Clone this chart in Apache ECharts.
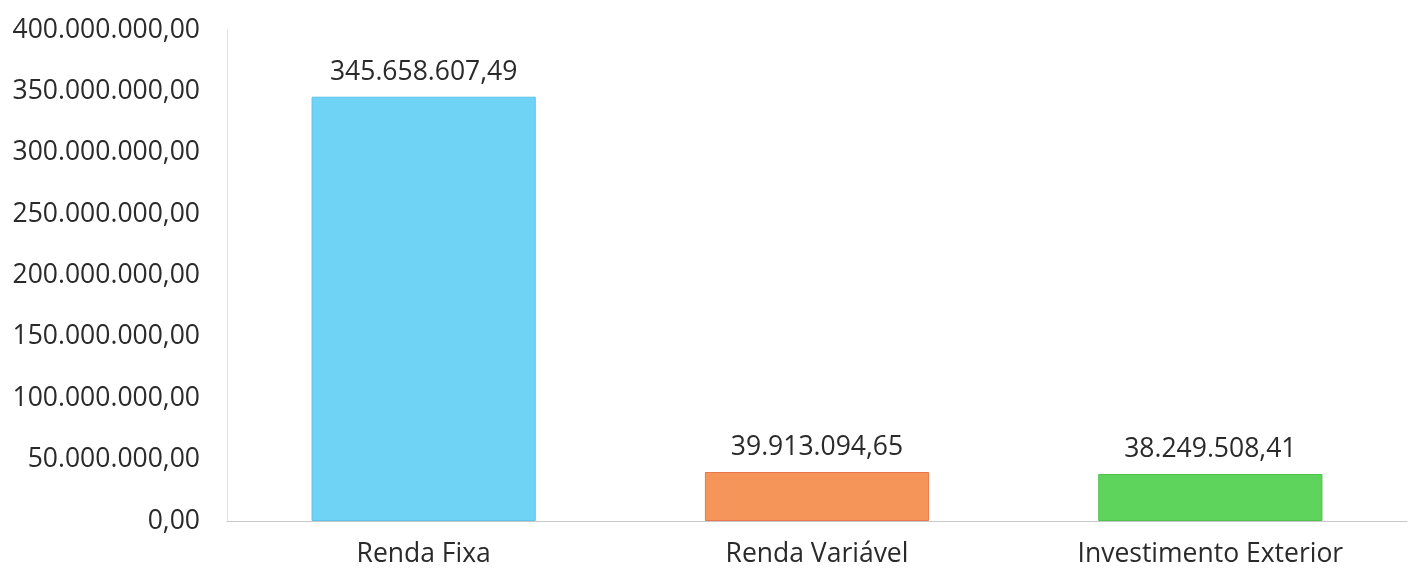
<!DOCTYPE html>
<html>
<head>
<meta charset="utf-8">
<script src="https://cdn.jsdelivr.net/npm/echarts@6/dist/echarts.min.js"></script>
<style>
	html,body{margin:0;padding:0;background:#fff;}
	#chart{width:1412px;height:571px;}
</style>
</head>
<body>
<div id="chart"></div>
<script>
	var categorias = ['Renda Fixa', 'Renda Variável', 'Investimento Exterior'];
	var valores = [345658607.49, 39913094.65, 38249508.41];
	var cores = ['#6fd3f5', '#f5955a', '#5fd45c'];
	var bordas = ['#5cc4ea', '#e8784a', '#4cc24a'];

	function fmtBR(v, dec){
		var p = v.toFixed(dec).split('.');
		var inteiro = p[0].replace(/\B(?=(\d{3})+(?!\d))/g, '.');
		return inteiro + ',' + p[1];
	}

	var dados = [];
	for(var i=0;i<valores.length;i++){
		dados.push({
			value: valores[i],
			itemStyle: { color: cores[i], borderColor: bordas[i], borderWidth: 1 }
		});
	}

	var myChart = echarts.init(document.getElementById('chart'));
	var option = {
		animation: false,
		textStyle: { fontFamily: 'Open Sans' },
		grid: { left: 227, right: 5, top: 30, bottom: 50 },
		xAxis: {
			type: 'category',
			data: categorias,
			axisLine: { lineStyle: { color: '#c8c8c8' } },
			axisTick: { show: false },
			axisLabel: { color: '#2a2a2a', fontSize: 26.5, margin: 20 }
		},
		yAxis: {
			type: 'value',
			min: 0,
			max: 400000000,
			interval: 50000000,
			axisLine: { show: true, lineStyle: { color: '#e2e2e2' } },
			axisTick: { show: false },
			splitLine: { show: false },
			axisLabel: {
				color: '#2a2a2a', fontSize: 26.5, margin: 27,
				formatter: function(v){ return fmtBR(v, 2); }
			}
		},
		series: [{
			type: 'bar',
			data: dados,
			barWidth: '57%',
			label: {
				show: true,
				position: 'top',
				distance: 11,
				color: '#2a2a2a',
				fontSize: 26.5,
				formatter: function(p){ return fmtBR(p.value, 2); }
			}
		}]
	};
	option && myChart.setOption(option);
</script>
</body>
</html>
